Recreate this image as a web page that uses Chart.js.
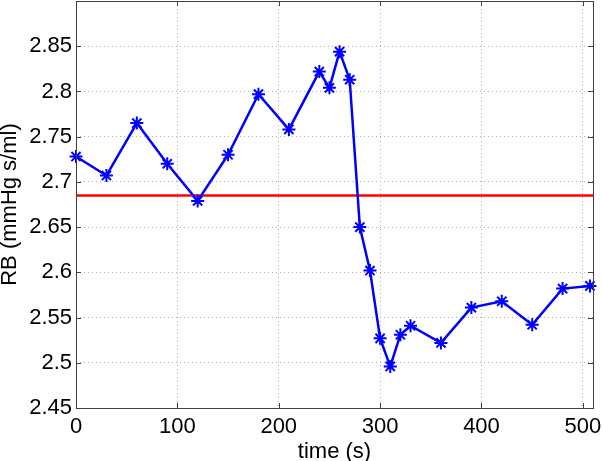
<!DOCTYPE html>
<html>
<head>
<meta charset="utf-8">
<script src="https://cdn.jsdelivr.net/npm/chart.js@4"></script>
<style>
  html, body { margin: 0; padding: 0; background: #fff; }
  #wrap { width: 602px; height: 461px; }
</style>
</head>
<body>
<div id="wrap"><canvas id="rbChart" width="602" height="461"></canvas></div>
<script>
// data
const times = [0, 30, 60, 90, 120, 150, 180, 210, 240, 250, 260, 270, 280, 290, 300, 310, 320, 330, 360, 390, 420, 450, 480, 507];
const rbValues = [2.728, 2.707, 2.765, 2.720, 2.679, 2.730, 2.797, 2.758, 2.822, 2.804, 2.844, 2.813, 2.650, 2.602, 2.527, 2.496, 2.531, 2.541, 2.522, 2.561, 2.568, 2.542, 2.582, 2.585];
const refLevel = 2.685;
const xRange = [0, 510];
const yRange = [2.45, 2.9];
const xTicks = [0, 100, 200, 300, 400, 500];
const yTicks = [2.45, 2.5, 2.55, 2.6, 2.65, 2.7, 2.75, 2.8, 2.85];

const FONT = "'Liberation Sans', Arial, Helvetica, sans-serif";

// box round the plot + matlab style inward ticks
const boxPlugin = {
  id: 'box',
  afterDatasetsDraw(chart) {
    const { ctx, chartArea: a, scales } = chart;
    ctx.save();
    ctx.strokeStyle = '#404040';
    ctx.lineWidth = 1;
    ctx.strokeRect(a.left + 0.5, a.top + 0.5, a.right - a.left, a.bottom - a.top);
    ctx.beginPath();
    const len = 5;
    xTicks.forEach(v => {
      const px = Math.round(scales.x.getPixelForValue(v)) + 0.5;
      ctx.moveTo(px, a.bottom); ctx.lineTo(px, a.bottom - len);
      ctx.moveTo(px, a.top); ctx.lineTo(px, a.top + len);
    });
    yTicks.forEach(v => {
      const py = Math.round(scales.y.getPixelForValue(v)) + 0.5;
      ctx.moveTo(a.left, py); ctx.lineTo(a.left + len, py);
      ctx.moveTo(a.right, py); ctx.lineTo(a.right - len, py);
    });
    ctx.stroke();
    ctx.restore();
  }
};

const ctx = document.getElementById('rbChart').getContext('2d');

new Chart(ctx, {
  type: 'line',
  data: {
    datasets: [
      {
        label: 'RB',
        data: times.map((t, i) => ({ x: t, y: rbValues[i] })),
        borderColor: '#0000ff',
        backgroundColor: '#0000ff',
        borderWidth: 2.5,
        pointStyle: 'star',
        pointRadius: 6.5,
        pointBorderWidth: 2,
        pointBorderColor: '#0000ff',
        tension: 0,
        clip: false
      },
      {
        label: 'reference',
        data: xRange.map(t => ({ x: t, y: refLevel })),
        borderColor: '#ff0000',
        borderWidth: 2.5,
        pointRadius: 0,
        tension: 0
      }
    ]
  },
  options: {
    responsive: false,
    animation: false,
    layout: { autoPadding: false, padding: { top: 1, right: 9, left: 0, bottom: 0 } },
    plugins: {
      legend: { display: false },
      tooltip: { enabled: false }
    },
    scales: {
      x: {
        type: 'linear',
        min: xRange[0],
        max: xRange[1],
        afterBuildTicks: (scale) => { scale.ticks = xTicks.map(v => ({ value: v })); },
        afterFit: (scale) => {
          scale.height = 53;
          scale.paddingLeft = 0;
          scale.paddingRight = 0;
        },
        grid: { color: '#b0b0b0', drawTicks: false },
        border: { display: false, dash: [1, 3] },
        ticks: {
          padding: 6,
          maxRotation: 0,
          color: '#000',
          font: { family: FONT, size: 22 },
          callback: (v) => String(v)
        },
        title: {
          display: true,
          text: 'time (s)',
          color: '#000',
          padding: { top: 0, bottom: -4 },
          font: { family: FONT, size: 22 }
        }
      },
      y: {
        type: 'linear',
        min: yRange[0],
        max: yRange[1],
        afterBuildTicks: (scale) => { scale.ticks = yTicks.map(v => ({ value: v })); },
        afterFit: (scale) => {
          scale.width = 76;
          scale.paddingTop = 0;
          scale.paddingBottom = 0;
        },
        grid: { color: '#b0b0b0', drawTicks: false },
        border: { display: false, dash: [1, 3] },
        ticks: {
          padding: 4,
          color: '#000',
          font: { family: FONT, size: 22 },
          callback: (v) => String(Math.round(v * 100) / 100)
        },
        title: {
          display: true,
          text: 'RB (mmHg s/ml)',
          color: '#000',
          padding: { top: -3, bottom: 0 },
          font: { family: FONT, size: 22 }
        }
      }
    }
  },
  plugins: [boxPlugin]
});
</script>
</body>
</html>
